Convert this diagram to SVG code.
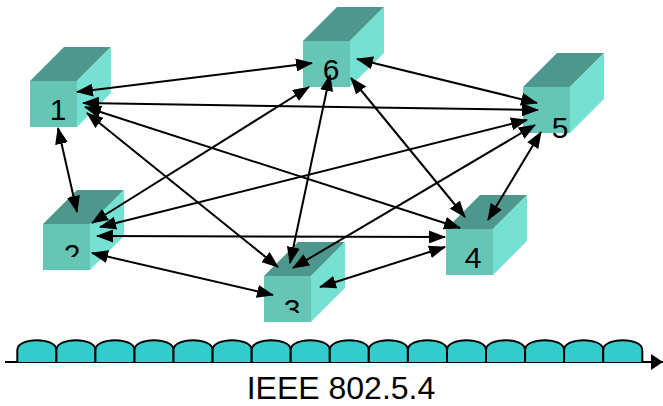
<svg xmlns="http://www.w3.org/2000/svg" width="663" height="406" viewBox="0 0 663 406">
  <style>
    .front { fill: #66C6B6; }
    .top { fill: #4E978C; }
    .side { fill: #74E1D3; }
    .lbl { font-family: "Liberation Sans", Arial, sans-serif; font-size: 30px; fill: #000; text-anchor: middle; }
    .link { stroke: #000; stroke-width: 2; fill: none; marker-start: url(#head); marker-end: url(#head); }
    .hump { fill: #33CCCC; stroke: #000; stroke-width: 2; }
    .caption { font-family: "Liberation Sans", Arial, sans-serif; font-size: 32px; fill: #000; text-anchor: middle; }
  </style>
  <defs>
    <marker id="head" viewBox="0 0 17 13" refX="16" refY="6.5" markerWidth="17" markerHeight="13" markerUnits="userSpaceOnUse" orient="auto-start-reverse">
      <path d="M0,0 L17,6.5 L0,13 z" fill="#000"/>
    </marker>
    <marker id="busHead" viewBox="0 0 12 16" refX="12" refY="8" markerWidth="12" markerHeight="16" markerUnits="userSpaceOnUse" orient="auto">
      <path d="M0,0 L12,8 L0,16 z" fill="#000"/>
    </marker>
    <!-- one cube shape, placed per station -->
    <g id="cube">
      <polygon class="top" points="0,0 34,-34 81,-34 47,0"/>
      <polygon class="side" points="47,0 81,-34 81,12 47,46"/>
      <rect class="front" x="0" y="0" width="47" height="46"/>
    </g>
    <clipPath id="clip2"><rect x="40" y="220" width="60" height="37"/></clipPath>
    <clipPath id="clip3"><rect x="260" y="270" width="60" height="43"/></clipPath>
  </defs>

  <!-- stations -->
  <g id="node1">
    <use href="#cube" x="30" y="81"/>
    <text class="lbl" x="58" y="120">1</text>
  </g>
  <g id="node2">
    <use href="#cube" x="43" y="224"/>
    <text class="lbl" x="72" y="265" clip-path="url(#clip2)">2</text>
  </g>
  <g id="node3">
    <use href="#cube" x="264" y="276"/>
    <text class="lbl" x="292" y="320" clip-path="url(#clip3)">3</text>
  </g>
  <g id="node4">
    <use href="#cube" x="446" y="229"/>
    <text class="lbl" x="473" y="268">4</text>
  </g>
  <g id="node5">
    <use href="#cube" x="523" y="87"/>
    <text class="lbl" x="560" y="138">5</text>
  </g>
  <g id="node6">
    <use href="#cube" x="303" y="41"/>
    <text class="lbl" x="331" y="80">6</text>
  </g>

  <!-- mesh links -->
  <g id="links">
    <line class="link" x1="77" y1="92" x2="312" y2="63"/>
    <line class="link" x1="83" y1="103" x2="538" y2="110"/>
    <line class="link" x1="85" y1="107" x2="460" y2="228"/>
    <line class="link" x1="87" y1="113" x2="278" y2="267"/>
    <line class="link" x1="58" y1="128" x2="77" y2="212"/>
    <line class="link" x1="309" y1="87" x2="92" y2="223"/>
    <line class="link" x1="330" y1="75" x2="290" y2="263"/>
    <line class="link" x1="351" y1="78" x2="465" y2="217"/>
    <line class="link" x1="357" y1="59" x2="537" y2="103"/>
    <line class="link" x1="527" y1="120" x2="100" y2="227"/>
    <line class="link" x1="535" y1="125" x2="293" y2="268"/>
    <line class="link" x1="541" y1="132" x2="488" y2="220"/>
    <line class="link" x1="97" y1="236" x2="445" y2="237"/>
    <line class="link" x1="92" y1="253" x2="273" y2="295"/>
    <line class="link" x1="320" y1="287" x2="445" y2="247"/>
  </g>

  <!-- bus with time slots -->
  <g id="bus">
    <line x1="5" y1="362" x2="663" y2="362" stroke="#000" stroke-width="2" marker-end="url(#busHead)"/>
    <path class="hump" d="M17.3,362 V350 C17.3,337 56.4,337 56.4,350 V362"/>
    <path class="hump" d="M56.4,362 V350 C56.4,337 95.4,337 95.4,350 V362"/>
    <path class="hump" d="M95.4,362 V350 C95.4,337 134.5,337 134.5,350 V362"/>
    <path class="hump" d="M134.5,362 V350 C134.5,337 173.5,337 173.5,350 V362"/>
    <path class="hump" d="M173.5,362 V350 C173.5,337 212.6,337 212.6,350 V362"/>
    <path class="hump" d="M212.6,362 V350 C212.6,337 251.7,337 251.7,350 V362"/>
    <path class="hump" d="M251.7,362 V350 C251.7,337 290.7,337 290.7,350 V362"/>
    <path class="hump" d="M290.7,362 V350 C290.7,337 329.8,337 329.8,350 V362"/>
    <path class="hump" d="M329.8,362 V350 C329.8,337 368.8,337 368.8,350 V362"/>
    <path class="hump" d="M368.8,362 V350 C368.8,337 407.9,337 407.9,350 V362"/>
    <path class="hump" d="M407.9,362 V350 C407.9,337 447,337 447,350 V362"/>
    <path class="hump" d="M447,362 V350 C447,337 486,337 486,350 V362"/>
    <path class="hump" d="M486,362 V350 C486,337 525.1,337 525.1,350 V362"/>
    <path class="hump" d="M525.1,362 V350 C525.1,337 564.1,337 564.1,350 V362"/>
    <path class="hump" d="M564.1,362 V350 C564.1,337 603.2,337 603.2,350 V362"/>
    <path class="hump" d="M603.2,362 V350 C603.2,337 642.3,337 642.3,350 V362"/>
  </g>
  <text class="caption" x="341" y="399">IEEE 802.5.4</text>
</svg>
